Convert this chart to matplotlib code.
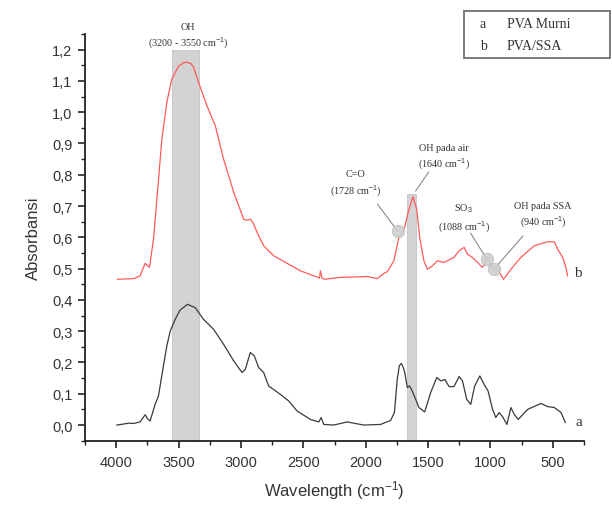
import matplotlib
matplotlib.use("Agg")
import matplotlib.pyplot as plt
from matplotlib.patches import Rectangle
from matplotlib.ticker import MultipleLocator, FuncFormatter

plt.rcParams['font.family'] = ['Liberation Sans', 'DejaVu Sans']
plt.rcParams['mathtext.fontset'] = 'custom'
plt.rcParams['mathtext.rm'] = 'Liberation Sans'
plt.rcParams['mathtext.it'] = 'Liberation Sans:italic'

# ---- data ----
wn_a = [3995, 3960, 3900, 3862, 3808, 3768, 3748, 3728, 3688, 3661, 3621, 3594, 3567,
        3527, 3487, 3428, 3366, 3300, 3219, 3139, 3058, 2991, 2965, 2925, 2893, 2858,
        2818, 2778, 2684, 2617, 2550, 2443, 2376, 2357, 2336, 2256, 2148, 2015, 1880,
        1800, 1770, 1747, 1730, 1714, 1700, 1688, 1666, 1650, 1634, 1599, 1573, 1527,
        1479, 1430, 1398, 1366, 1332, 1292, 1251, 1224, 1190, 1158, 1126, 1085, 1051,
        1019, 983, 957, 930, 903, 868, 836, 809, 777, 702, 595, 541, 488, 434, 400]
abs_a = [0.000, 0.002, 0.006, 0.005, 0.010, 0.033, 0.020, 0.013, 0.066, 0.093, 0.190,
         0.253, 0.300, 0.338, 0.368, 0.386, 0.375, 0.338, 0.306, 0.258, 0.205, 0.168,
         0.178, 0.232, 0.221, 0.184, 0.168, 0.125, 0.098, 0.077, 0.045, 0.018, 0.010,
         0.024, 0.002, 0.000, 0.010, 0.000, 0.002, 0.015, 0.040, 0.146, 0.190, 0.197,
         0.185, 0.170, 0.120, 0.125, 0.115, 0.082, 0.056, 0.042, 0.104, 0.152, 0.141,
         0.146, 0.123, 0.123, 0.155, 0.141, 0.082, 0.066, 0.125, 0.157, 0.130, 0.109,
         0.050, 0.024, 0.040, 0.027, 0.002, 0.056, 0.034, 0.018, 0.050, 0.069, 0.059,
         0.056, 0.040, 0.008]

wn_b = [3990, 3862, 3808, 3768, 3750, 3733, 3701, 3669, 3634, 3594, 3554, 3500, 3460,
        3433, 3400, 3380, 3340, 3273, 3206, 3139, 3058, 2978, 2950, 2925, 2900, 2871,
        2818, 2737, 2630, 2523, 2403, 2370, 2363, 2350, 2330, 2202, 2041, 1988, 1907,
        1854, 1827, 1774, 1734, 1726, 1688, 1653, 1621, 1591, 1565, 1533, 1505, 1465,
        1425, 1372, 1292, 1251, 1211, 1184, 1144, 1104, 1064, 1037, 1019, 997, 943,
        895, 836, 756, 649, 541, 488, 461, 421, 395, 382]
abs_b = [0.466, 0.468, 0.477, 0.517, 0.510, 0.504, 0.594, 0.744, 0.914, 1.032, 1.106,
         1.147, 1.158, 1.160, 1.155, 1.144, 1.096, 1.021, 0.957, 0.850, 0.744, 0.658,
         0.655, 0.658, 0.645, 0.616, 0.573, 0.541, 0.517, 0.493, 0.475, 0.470, 0.493,
         0.470, 0.466, 0.472, 0.474, 0.475, 0.468, 0.485, 0.490, 0.525, 0.600, 0.605,
         0.632, 0.690, 0.730, 0.690, 0.594, 0.525, 0.498, 0.509, 0.525, 0.520, 0.536,
         0.557, 0.568, 0.546, 0.536, 0.520, 0.504, 0.520, 0.536, 0.504, 0.498, 0.466,
         0.498, 0.536, 0.573, 0.586, 0.586, 0.562, 0.536, 0.504, 0.477]

series_names = ['a', 'b']
legend_labels = ['PVA Murni', 'PVA/SSA']

# shaded bands: (high wn, low wn, top)
bands = [(3550, 3340, 1.20), (1665, 1595, 0.738)]

# annotated peaks: label, marker (wn, abs) or None, text position, line start, line end
annotations = [
    ("OH\n(3200 - 3550 cm$^{-1}$)", None, (3423, 1.243), None, None),
    ("C=O\n(1728 cm$^{-1}$)", (1744, 0.620), (2081, 0.772), (1905, 0.706), (1744, 0.620)),
    ("OH pada air\n(1640 cm$^{-1}$)", None, (1375, 0.857), (1495, 0.809), (1599, 0.748)),
    ("SO$_3$\n(1088 cm$^{-1}$)", (1029, 0.530), (1214, 0.663), (1158, 0.613), (1029, 0.530)),
    ("OH pada SSA\n(940 cm$^{-1}$)", (973, 0.498), (579, 0.671), (740, 0.604), (973, 0.498)),
]

# ---- figure ----
fig = plt.figure(figsize=(6.12, 5.06), dpi=100)
ax = fig.add_axes([85/612, 1-441.7/506, 499/612, 406.7/506])

for hi, lo, top in bands:
    ax.fill_betweenx([-0.05, top], lo, hi, color='#d3d3d3', ec='#c4c4c4', lw=0.6, zorder=1)

ax.plot(wn_a, abs_a, color='#3a3a3a', lw=0.9, zorder=3)
ax.plot(wn_b, abs_b, color='#ff5a5a', lw=0.9, zorder=3)

for label, mk, tpos, l0, l1 in annotations:
    if l0 is not None:
        ax.plot([l0[0], l1[0]], [l0[1], l1[1]], color='#8a8a8a', lw=0.8, zorder=4)
    if mk is not None:
        ax.plot([mk[0]], [mk[1]], 'o', ms=9, mfc='#cfcfcf', mec='#bdbdbd', mew=0.6,
                alpha=0.9, zorder=5)
    ax.text(tpos[0], tpos[1], label, ha='center', va='center', fontsize=7.3,
            family=['Liberation Serif', 'DejaVu Serif'], color='#333333',
            linespacing=1.35, clip_on=False, zorder=6)

# series end labels
ax.text(322, 0.010, series_names[0], fontsize=11, family=['Liberation Serif'],
        color='#333333', va='center', ha='left', clip_on=False)
ax.text(330, 0.488, series_names[1], fontsize=11, family=['Liberation Serif'],
        color='#333333', va='center', ha='left', clip_on=False)

ax.set_xlim(4250, 250)
ax.set_ylim(-0.05, 1.25)
ax.xaxis.set_minor_locator(MultipleLocator(250))
ax.yaxis.set_minor_locator(MultipleLocator(0.05))
ax.set_xticks([4000, 3500, 3000, 2500, 2000, 1500, 1000, 500])
ax.set_yticks([0.0, 0.1, 0.2, 0.3, 0.4, 0.5, 0.6, 0.7, 0.8, 0.9, 1.0, 1.1, 1.2])
ax.yaxis.set_major_formatter(FuncFormatter(lambda v, p: f"{v:.1f}".replace('.', ',').replace('-0,0', '0,0')))

for s in ['top', 'right']:
    ax.spines[s].set_visible(False)
for s in ['left', 'bottom']:
    ax.spines[s].set_linewidth(1.3)
    ax.spines[s].set_color('#222222')

ax.tick_params(which='major', direction='out', length=5, width=1.2, colors='#222222',
               labelsize=10.5, labelcolor='#333333')
ax.tick_params(which='minor', direction='out', length=3, width=1.0, colors='#222222')
ax.tick_params(axis='y', pad=4)
ax.tick_params(axis='x', pad=5)

ax.set_xlabel("Wavelength (cm$^{-1}$)", fontsize=12, color='#333333', labelpad=7)
ax.set_ylabel("Absorbansi", fontsize=12, color='#333333', labelpad=8)

# legend box
fig.patches.append(Rectangle((464/612, 1-59/506), 146/612, 47/506, transform=fig.transFigure,
                             fill=False, ec='#7a7a7a', lw=1.4))
for i, (nm, lab) in enumerate(zip(series_names, legend_labels)):
    yy = 1 - (25 + 22*i)/506
    fig.text(480/612, yy, nm, fontsize=10, family=['Liberation Serif'], color='#333333',
             va='center')
    fig.text(507/612, yy, lab, fontsize=10, family=['Liberation Serif'], color='#333333',
             va='center')

fig.savefig("out.png", dpi=100)
